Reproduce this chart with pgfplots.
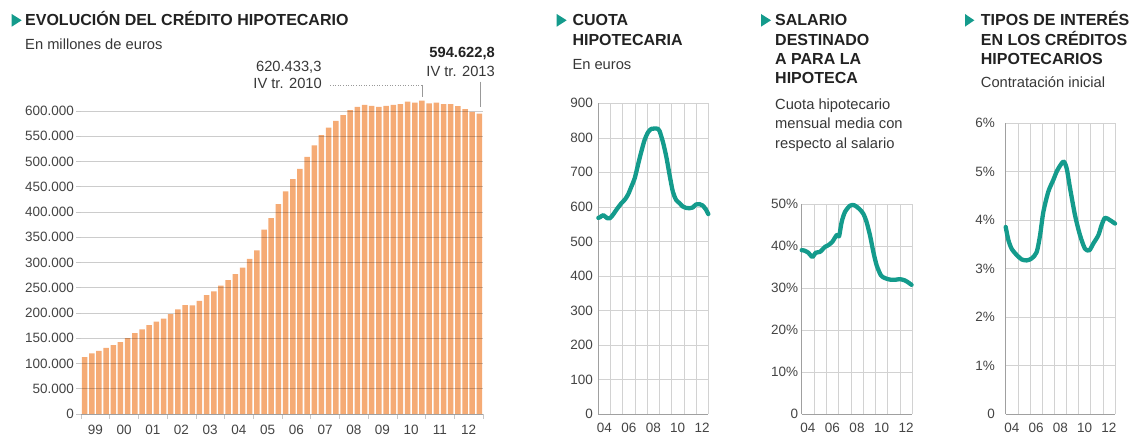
\documentclass[border=0pt]{standalone}
\usepackage{pgfplots}
\pgfplotsset{compat=1.18}
\usepackage{fontspec}
\setmainfont{Liberation Sans}
\definecolor{barorange}{RGB}{245,171,117}
\definecolor{teal1}{RGB}{20,155,140}
\definecolor{gridgray}{RGB}{210,210,210}
\definecolor{axisgray}{RGB}{160,160,160}
\definecolor{txt}{RGB}{34,34,34}
\definecolor{subtxt}{RGB}{55,55,55}
\definecolor{ticktxt}{RGB}{68,68,68}
\newcommand\titlefont{\fontsize{16}{19}\selectfont\bfseries}
\newcommand\subfont{\fontsize{14.7}{18}\selectfont}
\newcommand\tickfont{\fontsize{13.5}{16}\selectfont}

\pgfplotstableread{
q v
0 112800
1 120000
2 125000
3 131000
4 136500
5 142500
6 150000
7 160000
8 167500
9 176000
10 183000
11 189000
12 198000
13 207000
14 215700
15 215000
16 224000
17 235500
18 243000
19 254000
20 265000
21 277000
22 289600
23 307000
24 324000
25 365000
26 388000
27 415500
28 440600
29 465000
30 485500
31 509000
32 532000
33 552000
34 567000
35 580500
36 591700
37 601600
38 608000
39 612000
40 610000
41 608000
42 610000
43 612000
44 613500
45 618700
46 616700
47 620433
48 615000
49 616700
50 613500
51 613500
52 609500
53 603600
54 598300
55 594623
}\credito

\pgfplotstableread{
t v
2004.00 568
2004.14 570
2004.41 576
2004.73 567
2004.95 567
2005.22 578
2005.49 592
2005.90 611
2006.17 621
2006.44 636
2006.71 659
2006.98 683
2007.25 722
2007.52 760
2007.79 794
2008.07 816
2008.34 826
2008.61 827
2008.88 826
2009.01 820
2009.28 789
2009.56 746
2009.83 693
2010.10 644
2010.37 620
2010.64 611
2010.91 601
2011.18 597
2011.45 596
2011.72 598
2011.99 607
2012.27 608
2012.54 604
2012.81 592
2013.00 579
}\cuota

\pgfplotstableread{
t v
2004.00 39.0
2004.22 38.9
2004.54 38.4
2004.87 37.4
2005.14 38.4
2005.49 38.6
2005.90 39.8
2006.17 40.2
2006.49 41.0
2006.85 42.6
2007.04 42.3
2007.25 45.7
2007.52 48.1
2007.93 49.6
2008.28 49.7
2008.66 48.9
2009.01 47.7
2009.28 45.7
2009.56 42.5
2009.83 38.6
2010.10 35.4
2010.45 33.0
2010.78 32.35
2011.18 32.0
2011.59 31.95
2011.99 32.1
2012.40 31.8
2012.73 31.2
2012.94 30.75
}\salario

\pgfplotstableread{
t v
2004.00 3.86
2004.22 3.59
2004.49 3.41
2004.91 3.28
2005.32 3.19
2005.73 3.17
2006.14 3.21
2006.55 3.34
2006.83 3.69
2007.10 4.17
2007.51 4.59
2007.92 4.83
2008.25 5.03
2008.75 5.21
2009.02 5.07
2009.30 4.66
2009.71 4.10
2010.12 3.69
2010.53 3.41
2010.89 3.38
2011.22 3.52
2011.63 3.69
2011.90 3.90
2012.18 4.05
2012.59 4.00
2013.00 3.93
}\tipos

\pgfplotsset{
 smallchart/.style={
  scale only axis, anchor=south west,
  xmin=2004, xmax=2013, ymin=0,
  axis x line*=bottom, axis y line*=left,
  axis line style={draw=axisgray, line width=0.8pt},
  xtick={2004,...,2013}, xticklabels={},
  xmajorgrids, ymajorgrids,
  grid style={draw=gridgray, line width=0.6pt},
  major tick length=0pt, tick style={draw=none},
  extra x ticks={2004.5,2006.5,2008.5,2010.5,2012.5},
  extra x tick labels={04,06,08,10,12},
  extra x tick style={xmajorgrids=false},
  ticklabel style={font=\tickfont, text=ticktxt, inner sep=0pt},
  xticklabel style={anchor=north, yshift=-9.3pt},
  clip=false,
 },
 tealline/.style={draw=teal1, line width=4.3pt, smooth, tension=0.45, line cap=round, line join=round, mark=none}
}

\begin{document}
\begin{tikzpicture}[x=1pt,y=1pt]
\useasboundingbox (0,0) rectangle (1135,438);

% ---------- main bar chart ----------
\begin{axis}[
 scale only axis, anchor=south west, at={(81pt,24pt)},
 width=402pt, height=323.2pt,
 xmin=-0.5, xmax=55.5, ymin=0, ymax=640000,
 axis on top,
 axis x line*=bottom, axis y line*=left,
 y axis line style={draw=none},
 x axis line style={draw=axisgray, line width=0.8pt},
 scaled y ticks=false,
 ytick={0,50000,100000,150000,200000,250000,300000,350000,400000,450000,500000,550000,600000},
 yticklabels={0,50.000,100.000,150.000,200.000,250.000,300.000,350.000,400.000,450.000,500.000,550.000,600.000},
 ymajorgrids, grid style={draw=black, opacity=0.2, line width=0.6pt},
 tick align=outside, major tick length=5pt,
 tick style={draw=black!22, line width=0.6pt},
 xtick={-0.5,3.5,...,55.5}, xticklabels={},
 extra x ticks={1.5,5.5,...,53.5},
 extra x tick labels={99,00,01,02,03,04,05,06,07,08,09,10,11,12},
 extra x tick style={tick style={draw=none}},
 ticklabel style={font=\tickfont, text=ticktxt, inner sep=0pt},
 yticklabel style={anchor=east, xshift=-2pt},
 xticklabel style={anchor=north, yshift=-6pt},
 clip=false,
]
\addplot[ybar, bar width=5.5pt, bar shift=0pt, fill=barorange, draw=none] table[x=q, y=v] {\credito};
\end{axis}

% titles main
\fill[teal1] (11.7,424) -- (21.7,417.7) -- (11.7,411.3) -- cycle;
\node[anchor=base west, inner sep=0pt, text=txt, font=\titlefont] at (25,412) {EVOLUCIÓN DEL CRÉDITO HIPOTECARIO};
\node[anchor=base west, inner sep=0pt, text=subtxt, font=\subfont] at (25,388.7) {En millones de euros};
% annotations
\node[anchor=base east, inner sep=0pt, text=subtxt, font=\subfont] at (321.7,366.3) {620.433,3};
\node[anchor=base east, inner sep=0pt, text=subtxt, font=\subfont] at (322,349.3) {IV tr. 2010};
\draw[black!40, line width=0.6pt, dotted] (330,353) -- (422.7,353);
\draw[black!40, line width=0.6pt] (422.7,353) -- (422.7,341.3);
\node[anchor=base east, inner sep=0pt, text=txt, font=\subfont\bfseries] at (495,380.7) {594.622,8};
\node[anchor=base east, inner sep=0pt, text=subtxt, font=\subfont] at (495,361) {IV tr. 2013};
\draw[black!40, line width=0.6pt] (480,356.3) -- (480,331.3);

% ---------- chart 1 ----------
\begin{axis}[smallchart, at={(598.3pt,24pt)}, width=110pt, height=310.7pt,
 ymax=900, ytick={0,100,...,900},
 yticklabels={0,100,200,300,400,500,600,700,800,900},
 yticklabel style={anchor=east, xshift=-5.3pt}]
\addplot[tealline] table[x=t, y=v] {\cuota};
\end{axis}
\fill[teal1] (556.7,424) -- (566.7,417.7) -- (556.7,411.3) -- cycle;
\node[anchor=base west, inner sep=0pt, text=txt, font=\titlefont] at (572.3,412) {CUOTA};
\node[anchor=base west, inner sep=0pt, text=txt, font=\titlefont] at (572.3,392.3) {HIPOTECARIA};
\node[anchor=base west, inner sep=0pt, text=subtxt, font=\subfont] at (572.3,368.7) {En euros};

% ---------- chart 2 ----------
\begin{axis}[smallchart, at={(801.7pt,24pt)}, width=110.6pt, height=210pt,
 ymax=50, ytick={0,10,...,50},
 yticklabels={0,10\%,20\%,30\%,40\%,50\%},
 yticklabel style={anchor=east, xshift=-3.4pt}]
\addplot[tealline] table[x=t, y=v] {\salario};
\end{axis}
\fill[teal1] (761,424) -- (771,417.7) -- (761,411.3) -- cycle;
\node[anchor=base west, inner sep=0pt, text=txt, font=\titlefont] at (775,412) {SALARIO};
\node[anchor=base west, inner sep=0pt, text=txt, font=\titlefont] at (775,392.3) {DESTINADO};
\node[anchor=base west, inner sep=0pt, text=txt, font=\titlefont] at (775,373) {A PARA LA};
\node[anchor=base west, inner sep=0pt, text=txt, font=\titlefont] at (775,354) {HIPOTECA};
\node[anchor=base west, inner sep=0pt, text=subtxt, font=\subfont] at (775,328.5) {Cuota hipotecario};
\node[anchor=base west, inner sep=0pt, text=subtxt, font=\subfont] at (775,309.2) {mensual media con};
\node[anchor=base west, inner sep=0pt, text=subtxt, font=\subfont] at (775,289.8) {respecto al salario};

% ---------- chart 3 ----------
\begin{axis}[smallchart, at={(1005.7pt,24pt)}, width=109.3pt, height=290.7pt,
 ymax=6, ytick={0,1,...,6},
 yticklabels={0,1\%,2\%,3\%,4\%,5\%,6\%},
 yticklabel style={anchor=east, xshift=-10.7pt}]
\addplot[tealline] table[x=t, y=v] {\tipos};
\end{axis}
\fill[teal1] (965,424) -- (974.3,417.7) -- (965,411.3) -- cycle;
\node[anchor=base west, inner sep=0pt, text=txt, font=\titlefont] at (980.7,412) {TIPOS DE INTERÉS};
\node[anchor=base west, inner sep=0pt, text=txt, font=\titlefont] at (980.7,392.3) {EN LOS CRÉDITOS};
\node[anchor=base west, inner sep=0pt, text=txt, font=\titlefont] at (980.7,373) {HIPOTECARIOS};
\node[anchor=base west, inner sep=0pt, text=subtxt, font=\subfont] at (980.7,350.8) {Contratación inicial};
\end{tikzpicture}
\end{document}
